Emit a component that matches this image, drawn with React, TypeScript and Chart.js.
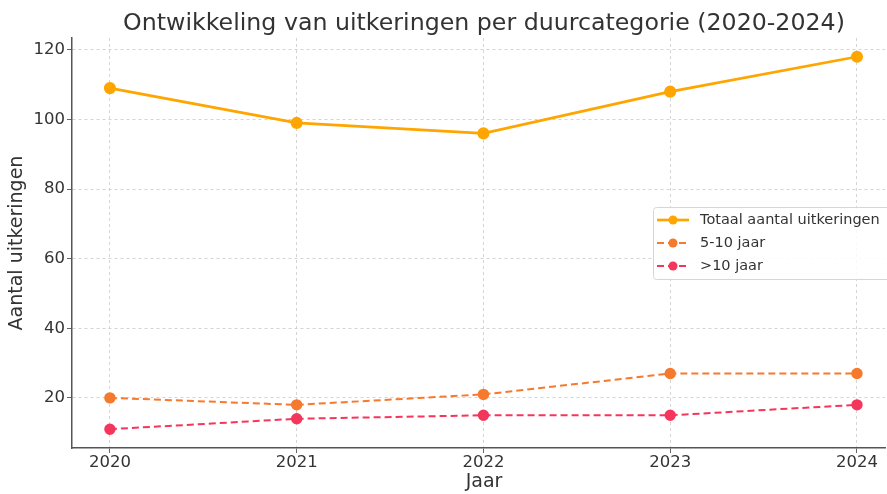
import React, { useEffect, useRef } from "react";
import { Chart, registerables } from "chart.js";

Chart.register(...registerables);

const years = [2020, 2021, 2022, 2023, 2024];
const totaal = [109, 99, 96, 108, 118];
const jaar5tot10 = [20, 18, 21, 27, 27];
const jaarMeerDan10 = [11, 14, 15, 15, 18];
const yTicks = [20, 40, 60, 80, 100, 120];

const TITLE = "Ontwikkeling van uitkeringen per duurcategorie (2020-2024)";
const X_LABEL = "Jaar";
const FONT = "'DejaVu Sans', sans-serif";

const textPlugin = {
  id: "axesTexts",
  afterDraw(chart: any) {
    const ctx = chart.ctx;
    ctx.save();
    ctx.fillStyle = "#333";
    ctx.textAlign = "center";
    ctx.textBaseline = "alphabetic";
    ctx.font = `23.7px ${FONT}`;
    ctx.fillText(TITLE, 484, 30);
    ctx.font = `19px ${FONT}`;
    ctx.fillText(X_LABEL, 484, 487);
    ctx.restore();
  },
};

const legendPlugin = {
  id: "insideLegend",
  afterDraw(chart: any) {
    const ctx = chart.ctx;
    const x0 = 653;
    const y0 = 207;
    const w = 240;
    const h = 72;
    ctx.save();
    ctx.fillStyle = "rgba(255,255,255,0.85)";
    ctx.strokeStyle = "#d6d6d6";
    ctx.lineWidth = 1;
    ctx.beginPath();
    if (ctx.roundRect) ctx.roundRect(x0 + 0.5, y0 + 0.5, w, h, 3);
    else ctx.rect(x0 + 0.5, y0 + 0.5, w, h);
    ctx.fill();
    ctx.stroke();
    chart.data.datasets.forEach((ds: any, i: number) => {
      const cy = 220 + i * 23;
      ctx.strokeStyle = ds.borderColor;
      ctx.lineWidth = ds.borderWidth;
      ctx.setLineDash(ds.borderDash || []);
      ctx.beginPath();
      ctx.moveTo(657, cy);
      ctx.lineTo(689, cy);
      ctx.stroke();
      ctx.setLineDash([]);
      ctx.fillStyle = ds.borderColor;
      ctx.beginPath();
      ctx.arc(673, cy, 4.5, 0, Math.PI * 2);
      ctx.fill();
      ctx.fillStyle = "#333";
      ctx.font = `14.5px ${FONT}`;
      ctx.textBaseline = "middle";
      ctx.textAlign = "left";
      ctx.fillText(ds.label, 700, cy);
    });
    ctx.restore();
  },
};

export default function App() {
  const ref = useRef<HTMLCanvasElement>(null);
  useEffect(() => {
    document.body.style.margin = "0";
    const mk = (arr: number[]) => years.map((y, i) => ({ x: y, y: arr[i] }));
    const chart = new Chart(ref.current!, {
      type: "line",
      data: {
        datasets: [
          {
            label: "Totaal aantal uitkeringen",
            data: mk(totaal),
            borderColor: "#FFA500",
            backgroundColor: "#FFA500",
            borderWidth: 2.7,
            pointRadius: 4.7,
            pointHoverRadius: 4.7,
            tension: 0,
          },
          {
            label: "5-10 jaar",
            data: mk(jaar5tot10),
            borderColor: "#F57A2E",
            backgroundColor: "#F57A2E",
            borderWidth: 2,
            borderDash: [7, 4],
            pointRadius: 4.7,
            pointHoverRadius: 4.7,
            tension: 0,
          },
          {
            label: ">10 jaar",
            data: mk(jaarMeerDan10),
            borderColor: "#F5365C",
            backgroundColor: "#F5365C",
            borderWidth: 2,
            borderDash: [7, 4],
            pointRadius: 4.7,
            pointHoverRadius: 4.7,
            tension: 0,
          },
        ],
      },
      options: {
        animation: false,
        responsive: false,
        maintainAspectRatio: false,
        layout: { autoPadding: false, padding: { left: 0, right: 2, top: 38, bottom: 0 } },
        plugins: {
          legend: { display: false },
          tooltip: { enabled: false },
          title: { display: false },
        },
        scales: {
          x: {
            type: "linear",
            min: 2019.797,
            max: 2024.15,
            afterBuildTicks: (scale: any) => {
              scale.ticks = years.map((v) => ({ value: v }));
            },
            afterFit: (scale: any) => {
              scale.height = 46;
              scale.paddingLeft = 0;
              scale.paddingRight = 0;
            },
            ticks: {
              color: "#333",
              font: { family: FONT, size: 16.5 },
              padding: 0,
              callback: (v: any) => String(v),
              maxRotation: 0,
            },
            grid: {
              color: "#d0d0d0",
              lineWidth: 0.9,
              tickBorderDash: [],
              tickColor: "#555",
              tickLength: 5,
              drawTicks: true,
            } as any,
            border: { display: true, color: "#555", width: 1.5, dash: [3, 3] },
            title: { display: false },
          },
          y: {
            min: 5.6,
            max: 123.4,
            afterBuildTicks: (scale: any) => {
              scale.ticks = yTicks.map((v) => ({ value: v }));
            },
            afterFit: (scale: any) => {
              scale.width = 72;
              scale.paddingTop = 0;
              scale.paddingBottom = 0;
            },
            ticks: {
              color: "#333",
              font: { family: FONT, size: 16.5 },
              padding: 2,
            },
            grid: {
              color: "#d0d0d0",
              lineWidth: 0.9,
              tickBorderDash: [],
              tickColor: "#555",
              tickLength: 5,
            } as any,
            border: { display: true, color: "#555", width: 1.5, dash: [3, 3] },
            title: {
              display: true,
              text: "Aantal uitkeringen",
              color: "#333",
              font: { family: FONT, size: 19 },
              padding: { top: 6, bottom: 0 },
            },
          },
        },
      },
      plugins: [legendPlugin, textPlugin],
    } as any);
    return () => chart.destroy();
  }, []);
  return (
    <div style={{ position: "relative", width: 887, height: 494 }}>
      <canvas ref={ref} width={887} height={494} style={{ display: "block" }} />
    </div>
  );
}
